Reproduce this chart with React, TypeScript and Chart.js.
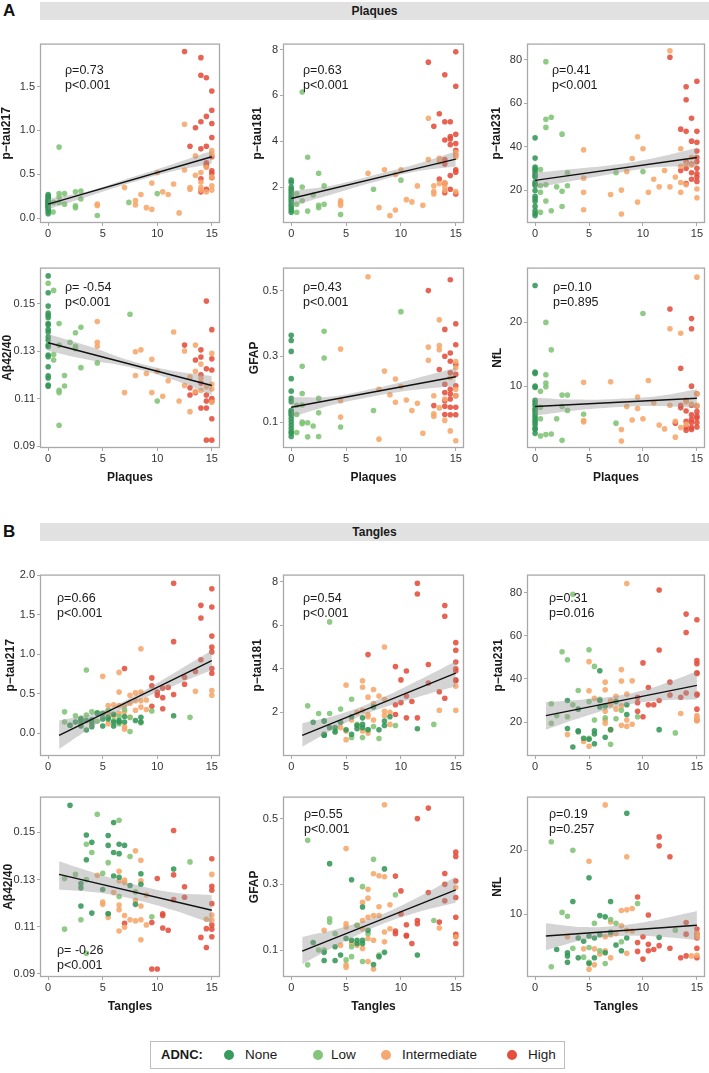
import React, { useEffect, useRef } from 'react';
import { Chart, registerables } from 'chart.js';

Chart.register(...registerables);

type Pt = [number, number];

// ---------- categories ----------
const ADNC_LEVELS = ['None', 'Low', 'Intermediate', 'High'];
const ADNC_COLORS = ['rgba(52,150,88,0.88)', 'rgba(128,196,118,0.88)', 'rgba(246,166,106,0.88)', 'rgba(228,78,60,0.88)'];
const LEGEND_COLORS = ['#3a9a5e', '#84c57c', '#f5a86f', '#e4503d'];

// ---------- axis ticks ----------
const X_TICKS = [0, 5, 10, 15];
const X_TICK_LABELS = ['0', '5', '10', '15'];
const X_RANGE: Pt = [-0.75, 15.75];

// ---------- fitted lines x positions ----------
const PLAQUE_FIT_X = [0, 15];
const PLAQUE_BAND_X = [0, 3.75, 7.5, 11.25, 15];
const TANGLE_FIT_X = [1, 15];
const TANGLE_BAND_X = [1, 4.5, 8, 11.5, 15];

// ================= A: Plaques =================
// A1 p-tau217
const A1_none: Pt[] = [[0,0.27],[0,0.25],[0,0.24],[0,0.22],[0,0.21],[0,0.20],[0,0.19],[0,0.18],[0,0.17],[0,0.16],[0,0.15],[0,0.14],[0,0.13],[0,0.12],[0,0.10],[0,0.08],[0,0.05]];
const A1_low: Pt[] = [[0.45,0.07],[0.5,0.18],[1,0.81],[1,0.28],[1,0.24],[1,0.18],[1.5,0.28],[1.5,0.16],[2.5,0.30],[2.5,0.14],[2.5,0.12],[3,0.31],[3,0.22],[4.5,0.03],[7.4,0.18],[10,0.28]];
const A1_int: Pt[] = [[4.5,0.16],[4.5,0.145],[7,0.35],[8,0.2],[8,0.15],[8.5,0.27],[9,0.12],[9.5,0.10],[9.5,0.40],[10,0.52],[10.5,0.3],[11,0.27],[11.5,0.39],[12,0.06],[12.5,1.07],[12.5,0.55],[13,0.35],[13,0.33],[13.5,0.71],[13.5,0.49],[14,0.52],[14,0.41],[14,0.35],[14,0.32],[14.5,0.58],[14.5,0.30],[15,0.77],[15,0.73],[15,0.37],[15,0.32],[15,0.47]];
const A1_high: Pt[] = [[12.5,1.90],[14,1.83],[14,1.63],[14.5,1.60],[15,1.45],[15,1.23],[15,1.08],[14.5,1.16],[14,1.10],[13.5,1.03],[13,0.82],[14,0.79],[14.5,0.82],[15,0.92],[15,0.70],[14.5,0.63],[14.5,0.59],[15,0.54],[15,0.51],[14,0.45],[14,0.30],[14.5,0.33],[15,0.46],[14.5,0.61]];
const A1_fit = [0.16, 0.70];
const A1_lo = [0.10, 0.25, 0.40, 0.53, 0.62];
const A1_hi = [0.22, 0.31, 0.46, 0.61, 0.77];

// A2 p-tau181
const A2_none: Pt[] = [[0,2.3],[0,2.2],[0,2.0],[0,1.9],[0,1.8],[0,1.7],[0,1.6],[0,1.5],[0,1.4],[0,1.3],[0,1.2],[0,1.1],[0,1.0],[0,0.9]];
const A2_low: Pt[] = [[1,6.15],[1.5,3.3],[1,2.0],[1,1.4],[0.5,1.7],[0.5,1.25],[0.5,0.9],[1.5,0.95],[2,1.65],[2.5,2.6],[2.5,1.2],[2.5,1.1],[3,2.05],[3,1.25],[4.5,0.8],[7.5,1.9],[10,2.3]];
const A2_int: Pt[] = [[4.5,1.4],[4.5,1.3],[4.5,1.2],[7,2.6],[8,1.1],[8.5,2.75],[9,0.75],[9.5,1.0],[9.5,2.55],[10,2.75],[10.5,1.45],[11,1.35],[11.5,2.05],[12,1.2],[12.5,5.0],[12.5,3.2],[13,2.05],[13,1.8],[13,1.7],[13.5,3.25],[13.5,3.1],[13.5,2.15],[14,2.0],[14,2.2],[14,1.85],[15,1.8],[15,3.5],[15,3.3]];
const A2_high: Pt[] = [[12.5,7.45],[15,7.9],[14,6.9],[15,6.4],[13.5,5.2],[13,4.65],[14,4.85],[14.5,4.85],[15,4.3],[14.5,4.2],[14.5,4.1],[14,4.05],[15,3.9],[14.5,3.85],[15,3.6],[15,3.4],[14,3.2],[14,3.0],[15,2.75],[15,2.65],[13.5,2.35],[14.5,2.5],[14,2.15],[14.5,1.9],[14,1.75],[15,1.7]];
const A2_fit = [1.50, 3.22];
const A2_lo = [1.17, 1.69, 2.21, 2.67, 2.90];
const A2_hi = [1.83, 2.07, 2.51, 2.98, 3.55];

// A3 p-tau231
const A3_none: Pt[] = [[0,44],[0,34.7],[0,30.6],[0,29.8],[0,29],[0,27.8],[0,26.7],[0,26],[0,23.7],[0,22.9],[0,22.1],[0,19.8],[0,17.2],[0,16],[0,14.9],[0,12.6],[0,10.6],[0,9.4],[0,8.3]];
const A3_low: Pt[] = [[1,79],[1,52.5],[1.5,53.5],[1,48.8],[2.5,45.7],[0.5,29.5],[0.5,22],[0.5,19],[0.5,9.8],[1,22.5],[1,15],[1.5,10.5],[2,21.5],[2.5,19.5],[2.5,12.5],[3,28],[3,22],[7.5,28],[10,28.5]];
const A3_int: Pt[] = [[4.5,38.5],[4.5,25.5],[4.5,19],[4.5,11],[7,18],[8,20],[8,9],[8.5,28.5],[9,34.5],[9.5,44.5],[9.5,14.5],[10,39],[10.5,19],[11,25],[11.5,21.5],[12,29],[12.5,84],[12.5,21.5],[13,26],[13.5,39],[13.5,31],[13.5,23.5],[13.5,19],[14,32],[14,22.5],[14.5,31.5],[15,20.5],[15,16.5],[14.5,35]];
const A3_high: Pt[] = [[12.5,81],[14,67.5],[14,61.5],[15,70],[14.5,53],[13.5,48],[14,47],[15,47],[14.5,42.5],[15,42],[15,38],[14,33],[15,35],[15,33],[14.5,32],[14,30],[13.5,29],[15,30],[14.5,28],[15,27.5],[15,26],[14.5,25],[14,23],[15,24]];
const A3_fit = [24.5, 35];
const A3_lo = [21, 24.5, 27.8, 30.5, 31];
const A3_hi = [28, 29.8, 31.8, 35, 39.5];

// A4 Abeta42/40
const A4_none: Pt[] = [[0,0.1616],[0,0.1545],[0,0.1489],[0,0.146],[0,0.145],[0,0.144],[0,0.1416],[0,0.141],[0,0.139],[0,0.138],[0,0.136],[0,0.1346],[0,0.1325],[0,0.1318],[0,0.1283],[0,0.1276],[0,0.1234],[0,0.1196],[0,0.1187],[0,0.1157],[0,0.1152]];
const A4_low: Pt[] = [[0,0.1585],[0.5,0.1555],[1,0.1416],[0.5,0.1285],[0.5,0.1262],[1,0.1325],[1,0.1135],[1,0.1125],[1,0.0988],[1.5,0.1197],[1.5,0.1153],[2,0.1337],[2.5,0.1377],[2.5,0.132],[2.5,0.131],[3,0.14],[3,0.123],[4.5,0.125],[7.5,0.1455],[10,0.109]];
const A4_int: Pt[] = [[4.5,0.1424],[4.5,0.1337],[4.5,0.132],[7,0.1125],[8,0.1297],[8,0.1197],[8.5,0.1305],[9,0.1205],[9.5,0.1265],[9.5,0.1125],[10,0.1215],[10.5,0.111],[11,0.1175],[11.5,0.138],[12,0.109],[12.5,0.13],[12.5,0.1155],[13,0.1045],[13,0.119],[13.5,0.1325],[13.5,0.1215],[13.5,0.113],[14,0.1245],[14,0.1185],[14,0.1135],[14.5,0.115],[15,0.129],[15,0.114],[15,0.1085],[15,0.116]];
const A4_high: Pt[] = [[12.5,0.1325],[13,0.1115],[13,0.1145],[13.5,0.1262],[13.5,0.1125],[14,0.1305],[14,0.1275],[14,0.12],[14,0.1165],[14,0.106],[14.5,0.151],[14.5,0.1225],[14.5,0.1115],[14.5,0.109],[14.5,0.106],[14.5,0.0925],[15,0.139],[15,0.1267],[15,0.122],[15,0.11],[15,0.109],[15,0.1015],[15,0.0925]];
const A4_fit = [0.1335, 0.1155];
const A4_lo = [0.1300, 0.1262, 0.1232, 0.1182, 0.1115];
const A4_hi = [0.1372, 0.1320, 0.1260, 0.1218, 0.1195];

// A5 GFAP
const A5_none: Pt[] = [[0,0.364],[0,0.348],[0,0.315],[0,0.232],[0,0.194],[0,0.172],[0,0.162],[0,0.136],[0,0.131],[0,0.126],[0,0.121],[0,0.111],[0,0.101],[0,0.091],[0,0.081],[0,0.071],[0,0.066],[0,0.056]];
const A5_low: Pt[] = [[0.5,0.151],[0.5,0.123],[0.5,0.068],[1,0.27],[1,0.187],[1,0.152],[1,0.1],[1,0.095],[1.5,0.098],[1.5,0.055],[2,0.088],[2.5,0.172],[2.5,0.128],[2.5,0.056],[3,0.376],[3,0.295],[4.5,0.085],[7.5,0.135],[10,0.436]];
const A5_int: Pt[] = [[7,0.542],[4.5,0.322],[4.5,0.165],[4.5,0.115],[8,0.2],[8,0.048],[8.5,0.255],[9,0.183],[9.5,0.231],[9.5,0.16],[10,0.208],[10.5,0.167],[11,0.135],[11.5,0.157],[12,0.066],[12.5,0.328],[12.5,0.288],[13,0.18],[13,0.125],[13,0.118],[13.5,0.411],[13.5,0.333],[13.5,0.32],[13.5,0.143],[14,0.17],[14,0.105],[14.5,0.235],[14.5,0.073],[15,0.284],[15,0.265],[15,0.2],[15,0.18],[15,0.043]];
const A5_high: Pt[] = [[12.5,0.5],[14.5,0.533],[14,0.382],[15,0.399],[15,0.335],[14.5,0.31],[14,0.3],[14.5,0.285],[15,0.275],[13.5,0.26],[14.5,0.25],[15,0.245],[14,0.215],[15,0.21],[14.5,0.2],[14,0.19],[14.5,0.185],[15,0.18],[14.5,0.17],[14,0.165],[13,0.15],[14,0.148],[14.5,0.145],[15,0.145],[14,0.123],[14.5,0.122],[15,0.122]];
const A5_fit = [0.145, 0.238];
const A5_lo = [0.115, 0.152, 0.178, 0.198, 0.210];
const A5_hi = [0.175, 0.178, 0.202, 0.232, 0.265];

// A6 NfL
const A6_none: Pt[] = [[0,25.8],[0,12.2],[0,12.0],[0,10.0],[0,9.8],[0,7.8],[0,7.4],[0,7.0],[0,6.5],[0,6.2],[0,5.8],[0,5.4],[0,5.0],[0,4.6],[0,4.3],[0,3.9],[0,3.4],[0,3.2],[0,2.6]];
const A6_low: Pt[] = [[0.5,9.2],[0.5,4.9],[0.5,2.2],[0.5,6.7],[1,20],[1,11.8],[1,10.5],[1,9.9],[1,2.4],[1.5,15.7],[1.5,2.5],[2,4.9],[2.5,8.6],[2.5,6.8],[2.5,1.5],[3,8.6],[3,6.2],[4.5,5.6],[7.5,4.2],[10,21.4]];
const A6_int: Pt[] = [[4.5,10.6],[4.5,4.6],[4.5,4.4],[7,10.7],[8,3.2],[8,1.4],[8.5,6.8],[9,4.7],[9.5,8.3],[9.5,6.5],[10,4.9],[10.5,10.9],[11,7.4],[11.5,3.9],[12,3.3],[12.5,19],[12.5,7.0],[13,4.5],[13,2.0],[13.5,18.3],[13.5,3.5],[14,7.5],[14,4.0],[14.5,7.2],[15,27.1],[15,8.8],[15,7.0]];
const A6_high: Pt[] = [[12.5,22.1],[14.5,20.6],[14.5,19],[13.5,12.8],[14.5,10],[15,8.8],[14,7.8],[13.5,7.0],[15,6.9],[13.5,6.6],[14.5,7.0],[14,6.1],[15,6.0],[14.5,5.5],[15,5.3],[15,5.0],[14.5,4.8],[14,4.5],[14.5,4.3],[13,4.2],[15,4.3],[14,3.6],[14.5,3.5],[15,3.6],[14,3.1],[14.5,3.2]];
const A6_fit = [6.8, 8.1];
const A6_lo = [5.4, 6.2, 6.7, 6.9, 6.6];
const A6_hi = [8.2, 7.9, 8.0, 8.4, 9.5];

// ================= B: Tangles =================
const B1_none: Pt[] = [[2,0.10],[3,0.18],[3,0.14],[3.5,0.16],[4,0.17],[4,0.13],[4.5,0.25],[5,0.25],[5,0.18],[5.5,0.2],[5.5,0.18],[6,0.24],[6,0.14],[6,0.09],[6.5,0.14],[6.5,0.16],[7,0.21],[7,0.14],[8,0.16],[8.5,0.14],[8.5,0.2],[11.5,0.22],[5,0.09],[3,0.09],[2.5,0.14],[4,0.08],[3.5,0.04]];
const B1_low: Pt[] = [[3.5,0.80],[1.5,0.27],[2.5,0.22],[3,0.19],[3.5,0.23],[4,0.27],[4.5,0.26],[5.5,0.29],[6.5,0.21],[7,0.3],[7.5,0.2],[1.5,0.14],[2,0.10],[3,0.17],[4.5,0.15],[6,0.16],[6.5,0.12],[7.5,0.02],[8.5,0.13],[13,0.2],[9.5,0.28],[5,0.2]];
const B1_int: Pt[] = [[8.5,1.07],[6.5,0.77],[5,0.72],[6.5,0.52],[8,0.51],[7.5,0.48],[8.5,0.52],[5.5,0.35],[6,0.36],[6.5,0.35],[7,0.35],[7.5,0.38],[8,0.41],[8.5,0.41],[9,0.42],[8.5,0.33],[9,0.30],[8,0.29],[7,0.27],[6.5,0.25],[5.5,0.25],[6,0.22],[7.5,0.2],[3,0.10],[4,0.11],[5.5,0.12],[7,0.08],[7,0.05],[13.5,0.53],[15,0.54],[15,0.48]];
const B1_high: Pt[] = [[11.5,1.90],[15,1.83],[14,1.62],[15,1.60],[14,1.46],[15,1.23],[11.5,1.16],[15,1.09],[15,1.03],[14,0.93],[15,0.82],[15,0.76],[7,0.82],[13.5,0.78],[9.5,0.70],[12.5,0.71],[9.5,0.60],[12.5,0.62],[10.5,0.57],[11,0.58],[10,0.52],[10,0.48],[10.5,0.45],[11.5,0.49],[9.5,0.34],[10.5,0.31]];
const B1_fit = [-0.03, 0.92];
const B1_lo = [-0.20, 0.12, 0.39, 0.60, 0.80];
const B1_hi = [0.16, 0.26, 0.48, 0.76, 1.05];

const B2_none: Pt[] = [[2,1.55],[3,1.6],[3,0.95],[3,1.0],[3.5,1.3],[4,1.3],[4,1.1],[4.5,1.55],[5,1.2],[5.5,1.0],[5.5,1.8],[6,1.4],[6,1.25],[6.5,1.75],[6.5,1.3],[6.5,1.45],[7,1.2],[7.5,2.25],[8,1.2],[8.5,1.6],[8.5,1.4],[11.5,1.25],[9,1.8]];
const B2_low: Pt[] = [[1.5,2.3],[3.5,6.15],[2.5,1.95],[3,1.6],[3.5,1.95],[4.5,2.15],[5.5,2.6],[6,1.45],[7,1.2],[7.5,1.35],[8,0.8],[9.5,1.4],[13,1.45],[4,1.15],[3,0.95],[5.5,0.85],[6.5,0.85]];
const B2_int: Pt[] = [[8.5,5.0],[5,3.25],[6.5,3.45],[6.5,3.15],[7.5,3.05],[8,2.75],[8.5,2.6],[7,2.7],[7.5,2.4],[6.5,2.1],[6,2.0],[7,1.9],[7,1.8],[7.5,1.65],[8.5,2.05],[8.5,1.85],[9,2.0],[9,1.45],[5.5,1.65],[5,1.15],[5,0.75],[4.5,1.3],[6.5,1.15],[7,1.05],[13.5,2.1],[15,3.2],[15,2.1]];
const B2_high: Pt[] = [[11.5,7.92],[11.5,7.43],[14,6.9],[14,6.41],[15,5.2],[15,4.85],[7,4.65],[15,4.31],[12.5,4.2],[9.5,4.1],[15,4.0],[15,3.9],[10.5,3.9],[10,3.49],[15,3.5],[15,3.45],[12.5,3.35],[13.5,2.95],[10.5,2.75],[14,2.65],[11,2.5],[10,2.45],[9.5,2.35],[9.5,1.9],[10.5,1.75],[11.5,1.75]];
const B2_fit = [0.95, 3.8];
const B2_lo = [0.42, 1.40, 2.15, 2.70, 3.20];
const B2_hi = [1.50, 1.93, 2.60, 3.45, 4.35];

const B3_none: Pt[] = [[3,30],[3,17],[3.5,8.5],[4,26],[4,16],[4,15.5],[5.5,16],[5.5,14.5],[5.5,10],[6,43.8],[6,30],[6,27],[6.5,27.5],[6.5,13],[7,16.5],[7.5,29.5],[8.5,28],[8.5,23.5],[11.5,16.5],[5,12],[4.5,12.5]];
const B3_low: Pt[] = [[3.5,79.2],[2.5,52.6],[5,53.5],[3,48.9],[5.5,45.8],[1.5,28.5],[1.5,19.5],[2,23],[3.5,28],[3,22.5],[4,34.6],[5,29.5],[5,12.5],[5.5,21],[6.5,22],[7.5,21.5],[7,9.7],[8,25.5],[9.5,22.5],[13,15],[6,30.5]];
const B3_int: Pt[] = [[8.5,84.2],[5,48],[8,44.3],[9,39.1],[6.5,38.5],[8,39],[6.5,35],[8.5,33],[7.5,32],[7,30],[7,29],[7,28],[8,27.5],[7.5,26],[6.5,25],[6.5,21],[6.5,19.5],[8.5,21],[8.5,18],[9,19],[8,18.5],[7,16.5],[3,14.2],[4.5,11],[5,8.8],[13.5,24],[15,23],[15,22],[15,20.5],[5,34.5],[5.5,31]];
const B3_high: Pt[] = [[11.5,81.2],[14,70],[14,61.5],[15,67.4],[11.5,53.4],[10,47.4],[15,48.5],[15,47],[15,42.5],[15,42.8],[12.5,38.5],[10.5,36],[13.5,31.5],[14,33.5],[15,33],[15,32.5],[11.5,30],[10.5,28],[11,28],[9.5,29],[9.5,31.5],[12.5,32.5],[9.5,25],[10,22.5],[15,26],[15,21]];
const B3_fit = [23, 37];
const B3_lo = [16.5, 22.5, 27.5, 30, 30.5];
const B3_hi = [29.3, 30.5, 32.5, 37, 43.5];

const B4_none: Pt[] = [[2,0.1615],[3.5,0.1489],[4,0.1458],[5.5,0.1487],[5.5,0.1445],[6,0.1542],[6,0.1415],[6.5,0.145],[6.5,0.141],[7,0.1445],[3.5,0.1384],[6,0.1315],[6.5,0.131],[3,0.1283],[3,0.1265],[5,0.1258],[7.5,0.1275],[8.5,0.1325],[8.5,0.128],[3,0.1188],[4,0.1158],[5.5,0.1155],[8,0.1195],[11.5,0.1345]];
const B4_low: Pt[] = [[1.5,0.1305],[1.5,0.109],[2.5,0.1322],[3,0.113],[3.5,0.145],[3.5,0.13],[3.5,0.0988],[4,0.1415],[4.5,0.1577],[5,0.1327],[5.5,0.1372],[5.5,0.1155],[6.5,0.1552],[6.5,0.1228],[7.5,0.1398],[8,0.1248],[9.5,0.1142],[13,0.1375]];
const B4_int: Pt[] = [[4.5,0.1318],[5,0.1205],[5,0.1195],[5.5,0.114],[6,0.1245],[6.5,0.1335],[6.5,0.1295],[6.5,0.1192],[6.5,0.1172],[6.5,0.1082],[7,0.1298],[7,0.1288],[7,0.1148],[7,0.1098],[7.5,0.113],[8,0.1422],[8,0.1212],[8,0.1125],[8.5,0.1382],[8.5,0.1295],[8.5,0.1188],[8.5,0.113],[8.5,0.1045],[9,0.1235],[9,0.1108],[14.5,0.1132],[15,0.1322],[15,0.115],[15,0.1128]];
const B4_high: Pt[] = [[11.5,0.1508],[10,0.1305],[11.5,0.132],[12.5,0.127],[11.5,0.1215],[12.5,0.1225],[15,0.1388],[15,0.1272],[15,0.1255],[15,0.1198],[15,0.1108],[15,0.109],[15,0.1058],[14.5,0.1092],[14,0.1055],[14.5,0.1012],[10.5,0.1155],[10.5,0.1148],[10.5,0.1095],[11,0.1085],[9.5,0.1118],[9.5,0.0921],[10,0.0921],[7,0.1115]];
const B4_fit = [0.1322, 0.117];
const B4_lo = [0.1258, 0.1245, 0.1215, 0.1170, 0.1114];
const B4_hi = [0.1378, 0.1325, 0.1278, 0.1245, 0.1234];

const B5_none: Pt[] = [[2,0.123],[3,0.093],[3,0.068],[3.5,0.363],[4,0.11],[4,0.068],[4.5,0.085],[5,0.135],[5.5,0.314],[5.5,0.13],[6,0.13],[6,0.12],[6.5,0.231],[6.5,0.13],[6.5,0.12],[7,0.16],[7.5,0.056],[8,0.08],[8.5,0.347],[8.5,0.093],[11.5,0.085]];
const B5_low: Pt[] = [[1.5,0.434],[1.5,0.055],[2.5,0.1],[3.5,0.195],[3.5,0.185],[4,0.15],[5,0.07],[5.5,0.11],[5.5,0.08],[6,0.175],[6.5,0.293],[6.5,0.065],[7,0.15],[7.5,0.376],[8,0.085],[9.5,0.268],[13,0.19],[3,0.1]];
const B5_int: Pt[] = [[8.5,0.542],[5,0.409],[7.5,0.332],[8,0.326],[8.5,0.323],[7,0.285],[7,0.258],[6.5,0.245],[8,0.232],[9,0.238],[6.5,0.19],[7,0.2],[7.5,0.205],[8,0.205],[5,0.18],[3,0.16],[5,0.17],[6,0.175],[6.5,0.165],[7,0.135],[7.5,0.13],[8.5,0.155],[9,0.165],[5.5,0.12],[6,0.115],[6.5,0.105],[4.5,0.115],[8.5,0.125],[5,0.048],[5,0.055],[7,0.065],[7.5,0.042],[13.5,0.167],[15,0.29],[15,0.14]];
const B5_high: Pt[] = [[12.5,0.532],[11.5,0.5],[15,0.398],[15,0.385],[14,0.333],[9.5,0.325],[14,0.3],[15,0.31],[10,0.28],[12.5,0.275],[15,0.26],[14,0.25],[10,0.21],[15,0.2],[13.5,0.185],[11.5,0.19],[11.5,0.18],[10.5,0.177],[9.5,0.158],[9.5,0.15],[10.5,0.145],[10.5,0.143],[15,0.148],[15,0.142],[11,0.12],[15,0.12]];
const B5_fit = [0.097, 0.283];
const B5_lo = [0.057, 0.120, 0.175, 0.215, 0.244];
const B5_hi = [0.140, 0.167, 0.205, 0.260, 0.323];

const B6_none: Pt[] = [[2,4.5],[3,4.0],[3,3.5],[3,2.5],[3.5,12.0],[4,6.3],[4,3.2],[4.5,5.8],[5,15.7],[5,6.6],[5,2.3],[5.5,3.2],[5.5,6.3],[6,9.8],[6,6.8],[6.5,9.6],[6.5,4.0],[7,12.0],[7,7.2],[7.5,5.2],[8,4.3],[8.5,25.8],[8.5,6.3],[11.5,6.4]];
const B6_low: Pt[] = [[1.5,21.35],[1.5,1.8],[2.5,10.3],[3,9.7],[3.5,20],[3.5,4.7],[5,4.8],[5.5,8.6],[6,4.3],[7,9.2],[7.5,8.6],[8,5.7],[9.5,11.7],[13,7.5],[6.5,2.3],[4.5,3.3],[5,2.5]];
const B6_int: Pt[] = [[6.5,27.1],[5,18.3],[8.5,19],[8,10.6],[8.5,10.7],[9,10.9],[7,8.8],[8,8.2],[9,7.4],[7.5,7.0],[7,6.8],[6.5,6.5],[8.5,7.5],[3,6.5],[4.5,4.6],[5.5,4.6],[6.5,4.3],[6,3.8],[7,3.2],[8.5,3.9],[5,1.4],[5.5,2.1],[14.5,3.5],[15,3.6],[15,7.0],[15,6.5]];
const B6_high: Pt[] = [[11.5,22.1],[11.5,20.7],[12.5,19],[9.5,12.7],[10.5,9.9],[14,8.7],[15,7.7],[15,7.0],[15,6.7],[15,6.3],[14,6.9],[10,6.5],[9.5,5.6],[10.5,5.3],[11.5,5.1],[12.5,4.7],[15,4.7],[11,4.5],[10.5,4.3],[9.5,4.2],[10,3.0],[13.5,3.2],[14,3.5],[15,3.2]];
const B6_fit = [6.6, 8.3];
const B6_lo = [4.4, 6.0, 6.6, 6.5, 6.0];
const B6_hi = [8.6, 8.0, 8.3, 9.2, 10.5];

// ---------- y axes ----------
const Y_TAU217_TICKS = [0, 0.5, 1.0, 1.5];
const Y_TAU217_LABELS = ['0.0', '0.5', '1.0', '1.5'];
const Y_TAU217B_TICKS = [0, 0.5, 1.0, 1.5, 2.0];
const Y_TAU217B_LABELS = ['0.0', '0.5', '1.0', '1.5', '2.0'];
const Y_TAU181_TICKS = [2, 4, 6, 8];
const Y_TAU181_LABELS = ['2', '4', '6', '8'];
const Y_TAU231_TICKS = [20, 40, 60, 80];
const Y_TAU231_LABELS = ['20', '40', '60', '80'];
const Y_AB_TICKS = [0.09, 0.11, 0.13, 0.15];
const Y_AB_LABELS = ['0.09', '0.11', '0.13', '0.15'];
const Y_GFAP_TICKS = [0.1, 0.3, 0.5];
const Y_GFAP_LABELS = ['0.1', '0.3', '0.5'];
const Y_NFL_TICKS = [10, 20];
const Y_NFL_LABELS = ['10', '20'];

// ---------- layout ----------
const FONT = "'Liberation Sans', Arial, Helvetica, sans-serif";
const COLS = [{ left: 40, width: 182 }, { left: 283, width: 183 }, { left: 527, width: 180 }];
const ROWS = [
  { top: 43, height: 180, xH: 20 },
  { top: 267, height: 181, xH: 37 },
  { top: 574, height: 182, xH: 20 },
  { top: 796, height: 181, xH: 37 },
];
const TOP_PAD = 8;
const RIGHT_PAD = 2;

interface PanelSpec {
  row: number; col: number;
  yTitle: string; xTitle: string;
  groups: Pt[][];
  fitX: number[]; fitY: number[];
  bandX: number[]; lo: number[]; hi: number[];
  yMin: number; yMax: number;
  yTicks: number[]; yLabels: string[];
  rho: string; p: string;
  yW: number; tx: number; ty: number;
}

const PANELS: PanelSpec[] = [
  { row: 0, col: 0, yTitle: 'p\u2212tau217', xTitle: '', groups: [A1_none, A1_low, A1_int, A1_high], fitX: PLAQUE_FIT_X, fitY: A1_fit, bandX: PLAQUE_BAND_X, lo: A1_lo, hi: A1_hi, yMin: -0.055, yMax: 1.99, yTicks: Y_TAU217_TICKS, yLabels: Y_TAU217_LABELS, rho: '\u03c1=0.73', p: 'p<0.001', yW: 41, tx: 25, ty: 20 },
  { row: 0, col: 1, yTitle: 'p\u2212tau181', xTitle: '', groups: [A2_none, A2_low, A2_int, A2_high], fitX: PLAQUE_FIT_X, fitY: A2_fit, bandX: PLAQUE_BAND_X, lo: A2_lo, hi: A2_hi, yMin: 0.43, yMax: 8.26, yTicks: Y_TAU181_TICKS, yLabels: Y_TAU181_LABELS, rho: '\u03c1=0.63', p: 'p<0.001', yW: 33, tx: 20, ty: 20 },
  { row: 0, col: 2, yTitle: 'p\u2212tau231', xTitle: '', groups: [A3_none, A3_low, A3_int, A3_high], fitX: PLAQUE_FIT_X, fitY: A3_fit, bandX: PLAQUE_BAND_X, lo: A3_lo, hi: A3_hi, yMin: 4.9, yMax: 87.3, yTicks: Y_TAU231_TICKS, yLabels: Y_TAU231_LABELS, rho: '\u03c1=0.41', p: 'p<0.001', yW: 38, tx: 25, ty: 20 },
  { row: 1, col: 0, yTitle: 'A\u03b242/40', xTitle: 'Plaques', groups: [A4_none, A4_low, A4_int, A4_high], fitX: PLAQUE_FIT_X, fitY: A4_fit, bandX: PLAQUE_BAND_X, lo: A4_lo, hi: A4_hi, yMin: 0.0892, yMax: 0.1651, yTicks: Y_AB_TICKS, yLabels: Y_AB_LABELS, rho: '\u03c1= -0.54', p: 'p<0.001', yW: 40, tx: 25, ty: 13 },
  { row: 1, col: 1, yTitle: 'GFAP', xTitle: 'Plaques', groups: [A5_none, A5_low, A5_int, A5_high], fitX: PLAQUE_FIT_X, fitY: A5_fit, bandX: PLAQUE_BAND_X, lo: A5_lo, hi: A5_hi, yMin: 0.021, yMax: 0.57, yTicks: Y_GFAP_TICKS, yLabels: Y_GFAP_LABELS, rho: '\u03c1=0.43', p: 'p<0.001', yW: 36, tx: 20, ty: 13 },
  { row: 1, col: 2, yTitle: 'NfL', xTitle: 'Plaques', groups: [A6_none, A6_low, A6_int, A6_high], fitX: PLAQUE_FIT_X, fitY: A6_fit, bandX: PLAQUE_BAND_X, lo: A6_lo, hi: A6_hi, yMin: 0.3, yMax: 28.6, yTicks: Y_NFL_TICKS, yLabels: Y_NFL_LABELS, rho: '\u03c1=0.10', p: 'p=0.895', yW: 37, tx: 26, ty: 13 },
  { row: 2, col: 0, yTitle: 'p\u2212tau217', xTitle: '', groups: [B1_none, B1_low, B1_int, B1_high], fitX: TANGLE_FIT_X, fitY: B1_fit, bandX: TANGLE_BAND_X, lo: B1_lo, hi: B1_hi, yMin: -0.29, yMax: 2.01, yTicks: Y_TAU217B_TICKS, yLabels: Y_TAU217B_LABELS, rho: '\u03c1=0.66', p: 'p<0.001', yW: 37, tx: 17, ty: 17 },
  { row: 2, col: 1, yTitle: 'p\u2212tau181', xTitle: '', groups: [B2_none, B2_low, B2_int, B2_high], fitX: TANGLE_FIT_X, fitY: B2_fit, bandX: TANGLE_BAND_X, lo: B2_lo, hi: B2_hi, yMin: 0, yMax: 8.32, yTicks: Y_TAU181_TICKS, yLabels: Y_TAU181_LABELS, rho: '\u03c1=0.54', p: 'p<0.001', yW: 33, tx: 20, ty: 17 },
  { row: 2, col: 2, yTitle: 'p\u2212tau231', xTitle: '', groups: [B3_none, B3_low, B3_int, B3_high], fitX: TANGLE_FIT_X, fitY: B3_fit, bandX: TANGLE_BAND_X, lo: B3_lo, hi: B3_hi, yMin: 4.3, yMax: 88.3, yTicks: Y_TAU231_TICKS, yLabels: Y_TAU231_LABELS, rho: '\u03c1=0.31', p: 'p=0.016', yW: 36, tx: 22, ty: 17 },
  { row: 3, col: 0, yTitle: 'A\u03b242/40', xTitle: 'Tangles', groups: [B4_none, B4_low, B4_int, B4_high], fitX: TANGLE_FIT_X, fitY: B4_fit, bandX: TANGLE_BAND_X, lo: B4_lo, hi: B4_hi, yMin: 0.0887, yMax: 0.1652, yTicks: Y_AB_TICKS, yLabels: Y_AB_LABELS, rho: '\u03c1= -0.26', p: 'p<0.001', yW: 39, tx: 17, ty: 147 },
  { row: 3, col: 1, yTitle: 'GFAP', xTitle: 'Tangles', groups: [B5_none, B5_low, B5_int, B5_high], fitX: TANGLE_FIT_X, fitY: B5_fit, bandX: TANGLE_BAND_X, lo: B5_lo, hi: B5_hi, yMin: 0.018, yMax: 0.567, yTicks: Y_GFAP_TICKS, yLabels: Y_GFAP_LABELS, rho: '\u03c1=0.55', p: 'p<0.001', yW: 36, tx: 21, ty: 11 },
  { row: 3, col: 2, yTitle: 'NfL', xTitle: 'Tangles', groups: [B6_none, B6_low, B6_int, B6_high], fitX: TANGLE_FIT_X, fitY: B6_fit, bandX: TANGLE_BAND_X, lo: B6_lo, hi: B6_hi, yMin: 0.2, yMax: 28.4, yTicks: Y_NFL_TICKS, yLabels: Y_NFL_LABELS, rho: '\u03c1=0.19', p: 'p=0.257', yW: 37, tx: 22, ty: 11 },
];

const borderPlugin = {
  id: 'panelBorder',
  afterDraw(chart: any) {
    const { ctx, chartArea } = chart;
    const { left, top, right, bottom } = chartArea;
    ctx.save();
    ctx.strokeStyle = '#a9a9a9';
    ctx.lineWidth = 1.3;
    ctx.strokeRect(left + 0.5, top + 0.5, right - left - 1, bottom - top - 1);
    ctx.restore();
  },
};

function Panel({ spec }: { spec: PanelSpec }) {
  const ref = useRef<HTMLCanvasElement>(null);
  const col = COLS[spec.col];
  const row = ROWS[spec.row];
  const cw = spec.yW + col.width + RIGHT_PAD;
  const ch = TOP_PAD + row.height + row.xH;

  useEffect(() => {
    if (!ref.current) return;
    const datasets: any[] = [];
    spec.groups.forEach((g, i) => {
      datasets.push({
        label: ADNC_LEVELS[i],
        data: g.map(([x, y]) => ({ x, y })),
        showLine: false,
        pointRadius: 2.8,
        pointBorderWidth: 0,
        pointBackgroundColor: ADNC_COLORS[i],
        pointBorderColor: ADNC_COLORS[i],
        order: 3,
      });
    });
    datasets.push({
      label: 'lo',
      data: spec.bandX.map((x, i) => ({ x, y: spec.lo[i] })),
      showLine: true, borderWidth: 0, borderColor: 'rgba(0,0,0,0)', pointRadius: 0, fill: false, tension: 0.4, order: 2,
    });
    datasets.push({
      label: 'hi',
      data: spec.bandX.map((x, i) => ({ x, y: spec.hi[i] })),
      showLine: true, borderWidth: 0, borderColor: 'rgba(0,0,0,0)', pointRadius: 0, tension: 0.4, order: 2,
      fill: '-1', backgroundColor: 'rgba(153,153,153,0.42)',
    });
    datasets.push({
      label: 'fit',
      data: spec.fitX.map((x, i) => ({ x, y: spec.fitY[i] })),
      showLine: true, borderWidth: 1.4, borderColor: '#111', pointRadius: 0, fill: false, order: 1,
    });

    const tickFont = { family: FONT, size: 11 };
    const titleFont = { family: FONT, size: 12, weight: 'bold' as const };
    const chart = new Chart(ref.current, {
      type: 'line',
      data: { datasets },
      plugins: [borderPlugin],
      options: {
        animation: false,
        responsive: false,
        events: [],
        layout: { padding: { left: 0, right: RIGHT_PAD, top: TOP_PAD, bottom: 0 } },
        plugins: { legend: { display: false }, tooltip: { enabled: false } },
        scales: {
          x: {
            type: 'linear',
            min: X_RANGE[0], max: X_RANGE[1],
            afterBuildTicks: (s: any) => { s.ticks = X_TICKS.map((v) => ({ value: v })); },
            afterFit: (s: any) => { s.height = row.xH; },
            ticks: { autoSkip: false, maxRotation: 0, padding: 1, color: '#333', font: tickFont, callback: (_v: any, i: number) => X_TICK_LABELS[i] },
            grid: { drawOnChartArea: false, drawTicks: true, tickLength: 3, color: '#a9a9a9' },
            border: { display: false },
            title: { display: !!spec.xTitle, text: spec.xTitle, color: '#1a1a1a', font: titleFont, padding: 0 },
          },
          y: {
            type: 'linear',
            min: spec.yMin, max: spec.yMax,
            afterBuildTicks: (s: any) => { s.ticks = spec.yTicks.map((v) => ({ value: v })); },
            afterFit: (s: any) => { s.width = spec.yW; },
            ticks: { autoSkip: false, padding: 2, color: '#333', font: tickFont, callback: (_v: any, i: number) => spec.yLabels[i] },
            grid: { drawOnChartArea: false, drawTicks: true, tickLength: 3, color: '#a9a9a9' },
            border: { display: false },
            title: { display: true, text: spec.yTitle, color: '#1a1a1a', font: titleFont, padding: 0 },
          },
        },
      } as any,
    });
    return () => chart.destroy();
  }, []);

  return (
    <>
      <canvas
        ref={ref}
        width={cw}
        height={ch}
        style={{ position: 'absolute', left: col.left - spec.yW, top: row.top - TOP_PAD, width: cw, height: ch }}
      />
      <div style={{ position: 'absolute', left: col.left + spec.tx, top: row.top + spec.ty, font: `12.5px ${FONT}`, lineHeight: '14.5px', color: '#1a1a1a', whiteSpace: 'nowrap' }}>
        <div>{spec.rho}</div>
        <div>{spec.p}</div>
      </div>
    </>
  );
}

const LEGEND_ITEMS = [
  { dot: 229, text: 245 },
  { dot: 318, text: 331 },
  { dot: 386, text: 402 },
  { dot: 512, text: 528 },
];

export default function App() {
  const header = (top: number, text: string) => (
    <div style={{ position: 'absolute', left: 40, top, width: 669, height: 18, background: '#e1e1e1', font: `bold 12px ${FONT}`, lineHeight: '18px', textAlign: 'center', color: '#1a1a1a' }}>{text}</div>
  );
  return (
    <div style={{ position: 'absolute', left: 0, top: 0, width: 709, height: 1073, background: '#fff', overflow: 'hidden' }}>
      <div style={{ position: 'absolute', left: 3, top: 1, font: `bold 17px ${FONT}`, color: '#111' }}>A</div>
      <div style={{ position: 'absolute', left: 3, top: 522, font: `bold 17px ${FONT}`, color: '#111' }}>B</div>
      {header(2, 'Plaques')}
      {header(523, 'Tangles')}
      {PANELS.map((p, i) => <Panel key={i} spec={p} />)}
      <div style={{ position: 'absolute', left: 150, top: 1041, width: 415, height: 28, border: '1px solid #bdbdbd', boxSizing: 'border-box' }} />
      <div style={{ position: 'absolute', left: 161, top: 1047, font: `bold 13px ${FONT}`, color: '#1a1a1a', lineHeight: '16px' }}>ADNC:</div>
      {LEGEND_ITEMS.map((it, i) => (
        <React.Fragment key={i}>
          <div style={{ position: 'absolute', left: it.dot - 5, top: 1050, width: 10, height: 10, borderRadius: 5, background: LEGEND_COLORS[i] }} />
          <div style={{ position: 'absolute', left: it.text, top: 1047, font: `13.5px ${FONT}`, color: '#1a1a1a', lineHeight: '16px' }}>{ADNC_LEVELS[i]}</div>
        </React.Fragment>
      ))}
    </div>
  );
}
